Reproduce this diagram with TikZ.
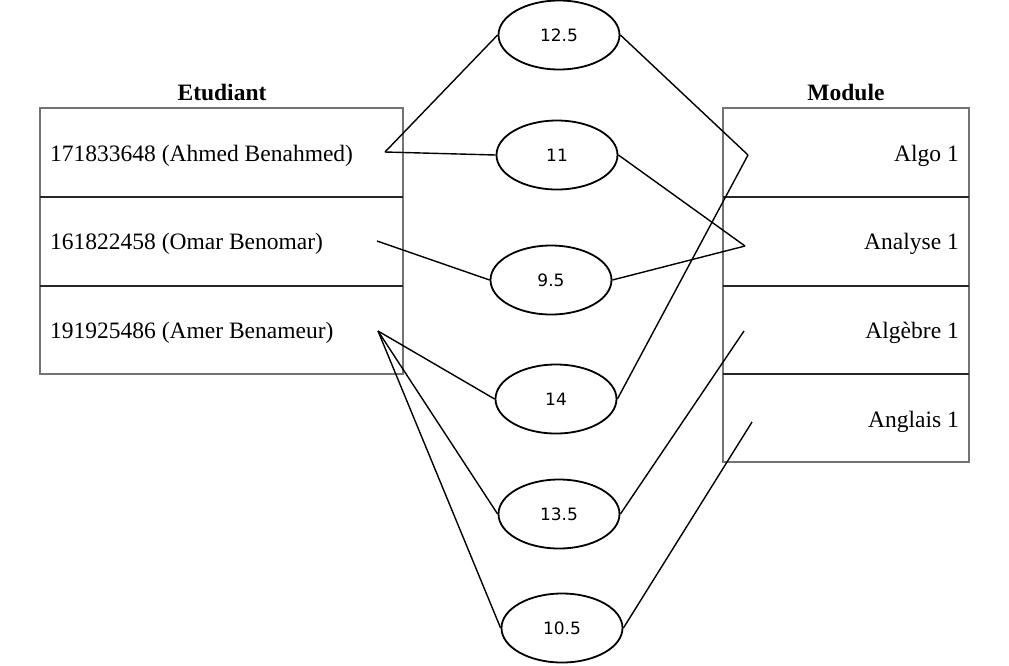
\documentclass[tikz,border=0pt]{standalone}
\usepackage{fontspec}
\setmainfont{Liberation Serif}
\newfontfamily\notefont{DejaVu Sans}
\usetikzlibrary{shapes.geometric}

\begin{document}
\begin{tikzpicture}[x=1pt,y=-1pt,
    frame/.style={draw=black!55,line width=1.3pt},
    divider/.style={draw=black!85,line width=1.3pt},
    title/.style={font=\fontsize{23.5}{28}\selectfont\bfseries,inner sep=0pt},
    rowtext/.style={font=\fontsize{23.5}{28}\selectfont,inner sep=0pt},
    note/.style={draw,ellipse,line width=1.8pt,minimum width=121pt,minimum height=69pt,inner sep=0pt,font=\notefont\fontsize{17}{20}\selectfont},
    link/.style={line width=1.4pt},
  ]
    \useasboundingbox (0,0) rectangle (1009,665);

    % tables
    \node[title] (ttl-etud) at (222,92) {Etudiant};
    \draw[frame] (40,108) rectangle (403,374);
    \draw[divider] (40,197) -- (403,197) (40,286) -- (403,286);
    \node[rowtext,anchor=west] (ahmed) at (50,156) {171833648 (Ahmed Benahmed)};
    \node[rowtext,anchor=west] (omar) at (50,244) {161822458 (Omar Benomar)};
    \node[rowtext,anchor=west] (amer) at (50,333) {191925486 (Amer Benameur)};

    \node[title] (ttl-mod) at (846,92) {Module};
    \draw[frame] (723,108) rectangle (969,462);
    \draw[divider] (723,197) -- (969,197) (723,286) -- (969,286) (723,374) -- (969,374);
    \node[rowtext,anchor=east] (algo) at (959,156) {Algo 1};
    \node[rowtext,anchor=east] (analyse) at (959,244) {Analyse 1};
    \node[rowtext,anchor=east] (algebre) at (959,333) {Algèbre 1};
    \node[rowtext,anchor=east] (anglais) at (959,422) {Anglais 1};

    % free ends of the links
    \coordinate (p-ahmed) at (385,152);
    \coordinate (p-omar) at (377,241);
    \coordinate (p-amer) at (378,331);
    \coordinate (p-algo) at (748,155);
    \coordinate (p-analyse) at (745,246);
    \coordinate (p-algebre) at (744,331);
    \coordinate (p-anglais) at (752,422);

    % grades
    \node[note] (g125) at (559,35) {12.5};
    \node[note] (g11) at (557,155) {11};
    \node[note] (g95) at (551,280) {9.5};
    \node[note] (g14) at (556,399) {14};
    \node[note] (g135) at (559,514) {13.5};
    \node[note] (g105) at (562,628) {10.5};

    \draw[link] (p-ahmed) -- (g125.west);
    \draw[link] (p-ahmed) -- (g11.west);
    \draw[link] (p-omar) -- (g95.west);
    \draw[link] (p-amer) -- (g14.west);
    \draw[link] (p-amer) -- (g135.west);
    \draw[link] (p-amer) -- (g105.west);

    \draw[link] (g125.east) -- (p-algo);
    \draw[link] (g14.east) -- (p-algo);
    \draw[link] (g11.east) -- (p-analyse);
    \draw[link] (g95.east) -- (p-analyse);
    \draw[link] (g135.east) -- (p-algebre);
    \draw[link] (g105.east) -- (p-anglais);
\end{tikzpicture}
\end{document}
